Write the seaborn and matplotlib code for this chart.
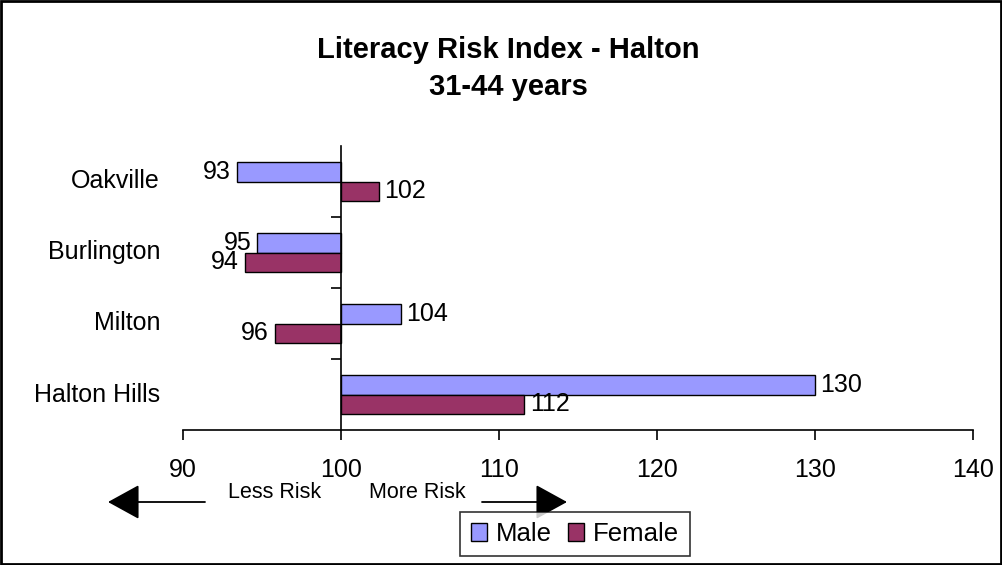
import pandas as pd
import seaborn as sns
import matplotlib.pyplot as plt
from matplotlib.patches import Rectangle, Patch
from matplotlib.ticker import FuncFormatter, FixedLocator

towns = ['Oakville', 'Burlington', 'Milton', 'Halton Hills']
male = [93.4, 94.7, 103.8, 130.0]
female = [102.4, 93.9, 95.8, 111.6]
base = 100
sexes = ['Male', 'Female']
colors = {'Male': '#9999FF', 'Female': '#993366'}

df = pd.DataFrame({
    'town': towns * 2,
    'sex': ['Male'] * len(towns) + ['Female'] * len(towns),
    'value': male + female,
})
# bars grow out from the 100 baseline
df['diff'] = df['value'] - base

sns.set_style('white')
plt.rcParams['font.family'] = ['Liberation Sans', 'DejaVu Sans']
plt.rcParams['text.color'] = 'black'
plt.rcParams['xtick.color'] = 'black'
plt.rcParams['ytick.color'] = 'black'

fig = plt.figure(figsize=(10.03, 5.65), dpi=100)
ax = fig.add_axes([183 / 1003, 1 - 430 / 565, 790 / 1003, 284 / 565])

sns.barplot(data=df, x='diff', y='town', hue='sex', order=towns, hue_order=sexes,
            palette=colors, saturation=1, orient='h', width=0.56, edgecolor='black',
            linewidth=1, legend=False, ax=ax)

ax.set_xlim(-10, 40)
ax.set_ylim(3.5, -0.5)
ax.set_xlabel('')
ax.set_ylabel('')

ax.xaxis.set_major_locator(FixedLocator([-10, 0, 10, 20, 30, 40]))
ax.xaxis.set_major_formatter(FuncFormatter(lambda v, p: f'{v + base:.0f}'))
ax.tick_params(axis='x', direction='out', length=7, width=1.2, pad=13,
               labelsize=18, bottom=True, color='black', labelcolor='black')

ax.spines['top'].set_visible(False)
ax.spines['right'].set_visible(False)
ax.spines['left'].set_position(('data', 0))
for s in ['left', 'bottom']:
    ax.spines[s].set_color('black')
    ax.spines[s].set_linewidth(1.2)

ax.set_yticks([0.5, 1.5, 2.5])
ax.set_yticklabels([])
ax.tick_params(axis='y', direction='out', length=7, width=1.2, left=True, color='black')

for i, t in enumerate(towns):
    ax.text(-0.029, i, t, transform=ax.get_yaxis_transform(), ha='right',
            va='center', fontsize=18)

# value labels at the bar ends
for j, sex in enumerate(sexes):
    vals = male if sex == 'Male' else female
    for i, v in enumerate(vals):
        y = i - 0.14 + 0.28 * j
        d = v - base
        if d >= 0:
            ax.text(d + 0.35, y, f'{v:.0f}', ha='left', va='center', fontsize=18)
        else:
            ax.text(d - 0.35, y, f'{v:.0f}', ha='right', va='center', fontsize=18)

fig.text(508 / 1003, 1 - 50 / 565, 'Literacy Risk Index - Halton', ha='center',
         va='center', fontsize=21, fontweight='bold')
fig.text(508 / 1003, 1 - 87 / 565, '31-44 years', ha='center', va='center',
         fontsize=21, fontweight='bold')

# risk arrows under the axis
arrow = dict(arrowstyle='-|>,head_length=1.0,head_width=0.55', color='black',
             lw=1.3, mutation_scale=20, shrinkA=0, shrinkB=0)
ax.annotate('', xy=(108 / 1003, 1 - 502 / 565), xytext=(205 / 1003, 1 - 502 / 565),
            xycoords='figure fraction', arrowprops=arrow)
ax.annotate('', xy=(567 / 1003, 1 - 502 / 565), xytext=(482 / 1003, 1 - 502 / 565),
            xycoords='figure fraction', arrowprops=arrow)
fig.text(275 / 1003, 1 - 492 / 565, 'Less Risk', ha='center', va='center', fontsize=15.5)
fig.text(417 / 1003, 1 - 492 / 565, 'More Risk', ha='center', va='center', fontsize=15.5)

handles = [Patch(facecolor=colors[s], edgecolor='black', linewidth=1) for s in sexes]
leg = fig.legend(handles, sexes, loc='center', bbox_to_anchor=(575 / 1003, 1 - 534 / 565),
                 ncol=2, fontsize=18.5, frameon=True, fancybox=False, handlelength=0.65,
                 handleheight=0.65, handletextpad=0.35, columnspacing=0.6,
                 borderpad=0.4, borderaxespad=0)
leg.get_frame().set_edgecolor('black')
leg.get_frame().set_linewidth(1.2)

fig.patches.append(Rectangle((0.001, 0.002), 0.997, 0.996, transform=fig.transFigure,
                             fill=False, edgecolor='black', linewidth=2))

fig.savefig('out.png', dpi=100)
